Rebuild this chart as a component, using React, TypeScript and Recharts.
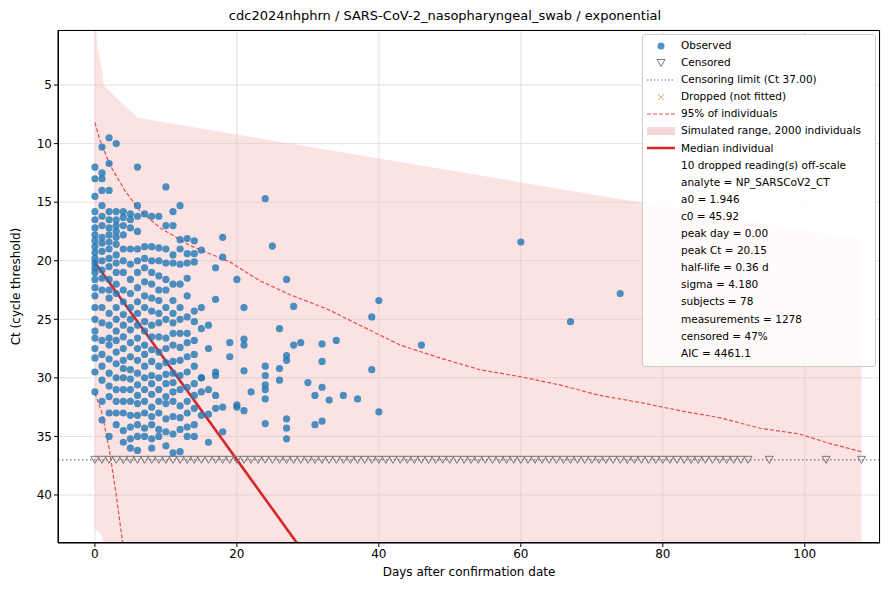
import {
  ComposedChart,
  Scatter,
  Line,
  Area,
  XAxis,
  YAxis,
  CartesianGrid,
  ReferenceLine,
} from "recharts";

// observed Ct values, dense part listed per day
const DAY_CT: number[][] = [
  [12, 13, 14.5, 15.8, 16.5, 17.2, 17.8, 18.3, 18.8, 19.3, 19.8, 20.2, 20.6, 21, 21.6, 22.3, 23, 24, 25, 26, 26.6, 27.5, 28.3, 29.5, 31.2],
  [10.3, 12.5, 13, 14, 15.3, 16.2, 17, 18, 18.5, 19.2, 20, 20.8, 21.5, 22.5, 24, 25.3, 26.8, 28, 29, 30.2, 32, 33.6],
  [9.5, 11.7, 14, 15.8, 16.5, 17.2, 17.8, 18.4, 19, 19.8, 20.5, 21.6, 22.5, 23.2, 24.5, 25.5, 26.6, 27.2, 28.4, 29.6, 30.7, 31.6, 33, 35],
  [10, 15.8, 16.5, 17, 17.5, 18, 18.6, 19.5, 20.2, 21, 22, 22.8, 24, 25, 26, 26.8, 27.8, 28.8, 30, 31, 32, 33, 34],
  [15.8, 16.3, 17, 17.8, 19, 20, 21, 22.5, 23.5, 24.6, 25.5, 26.5, 27.5, 28.5, 29.2, 30, 31, 32, 33, 34.5, 35.5],
  [16, 16.5, 17.2, 19, 20.3, 21.6, 22.8, 24, 25, 25.9, 27, 28.2, 29.3, 30.1, 31, 32, 33.2, 34.2, 35.2, 36],
  [12, 15.3, 16.2, 17.5, 19, 20, 21, 22.3, 23.5, 24.5, 25.5, 26.6, 27.5, 28.5, 29.6, 30.6, 31.5, 32.2, 33.2, 34, 35, 36.2],
  [16, 18.8, 19.8, 20.6, 21.8, 23, 24, 25.2, 26, 27.2, 28, 29, 30, 31, 32, 33, 34.3, 35],
  [16.2, 18.8, 20, 21, 22, 23.2, 24.3, 25.5, 26.5, 27.6, 28.6, 29.8, 30.5, 31.4, 32.5, 33.3, 34, 35.2, 36],
  [16.2, 18.9, 20, 21.3, 22.5, 23.4, 24.5, 25.3, 26.5, 27.8, 29, 30, 31, 32, 33, 34.4, 35],
  [13.7, 17, 19, 20.2, 21.6, 22.5, 24, 25, 26.6, 27.5, 28.7, 29.7, 30.5, 31.6, 32.2, 33.5, 34.6, 35.8],
  [15.8, 17, 19.5, 20.2, 22, 23.4, 24.5, 25.3, 26.2, 27.2, 28.6, 29.6, 30.4, 31.2, 32, 33.3, 34.8, 36.4],
  [15.3, 18.2, 19, 20.3, 22, 24, 25, 26.2, 27.4, 28.5, 29.8, 31, 32.4, 33.4, 34.4, 36.3],
  [18.1, 19.4, 20.2, 21.5, 23, 24.8, 26.2, 27, 28.2, 29.5, 30.8, 32, 33, 34.2, 35],
  [18.3, 19.4, 20.1, 24.3, 25.2, 26.8, 28, 29, 30.5, 31.5, 32.6, 34, 35],
  [19.1, 24, 25.8, 30, 31.2, 33.2],
];

// sparse observed points [day, Ct]
const SPARSE: [number, number][] = [
  [24, 14.7], [18, 18], [18, 19.7], [17, 20.6], [25, 18.75], [20, 21.6], [27, 21.6],
  [21, 24], [28, 23.9], [40, 23.4], [39, 24.8], [26, 25.8], [19, 27], [21, 26.7],
  [21, 27.2], [19, 28.2], [28, 27.2], [29, 27], [32, 27.1], [32, 28.6], [34, 26.8],
  [46, 27.2], [27, 28.1], [27, 28.5], [24, 29], [24, 29.8], [26, 29.2], [26, 30.2],
  [21, 29.4], [17, 29.5], [17, 29.8], [15, 30], [24, 30.6], [24, 31], [30, 30.4],
  [32, 30.8], [39, 29.3], [16, 31], [17, 31.5], [22, 31.2], [31, 31.5], [35, 31.5],
  [33, 31.9], [37, 31.8], [24, 31.8], [20, 32.3], [20, 32.5], [21, 32.8], [18, 32.5],
  [17, 32.6], [16, 33.1], [40, 32.9], [24, 33.9], [27, 33.5], [27, 34.3], [27, 35.2],
  [31, 34], [32, 33.7], [18, 34.6], [16, 35.5], [60, 18.4], [67, 25.2], [74, 22.8],
  [16, 25.5], [16, 27.5], [17, 23.3],
];

const CENSORED_DAYS: number[] = [
  ...Array.from({ length: 93 }, (_, i) => i),
  95, 103, 108,
];
const LIMIT = 37;

const UPPER_95: [number, number][] = [
  [0, 8.2], [0.7, 9.7], [2.1, 11.8], [4.2, 14], [6.3, 15.7], [9.2, 17.2], [13.4, 18.7],
  [19, 20.1], [23.2, 21.7], [27.5, 22.9], [33, 24.2], [37.3, 25.5], [43, 27.2],
  [48.6, 28.3], [54.2, 29.3], [59.9, 29.9], [65.5, 30.6], [71.1, 31.5], [76.8, 32.1],
  [82.4, 32.8], [88, 33.4], [93.7, 34.3], [99.3, 34.8], [103.5, 35.6], [108, 36.3],
];
const LOWER_95: [number, number][] = [[0, 31.3], [1, 33], [2, 36], [3, 40], [4, 44.5]];

const BAND: [number, number, number][] = [
  [0, -2, 43], [0.3, 1.6, 43], [1, 3.7, 43.5], [1.2, 5, 45], [6, 7.8, 45], [108, 18.2, 45],
];

const MEDIAN: [number, number][] = [[0, 20.15], [30, 45.4]];

const LEGEND_ROWS: { kind: string; text: string }[] = [
  { kind: "obs", text: "Observed" },
  { kind: "cens", text: "Censored" },
  { kind: "dot", text: "Censoring limit (Ct 37.00)" },
  { kind: "x", text: "Dropped (not fitted)" },
  { kind: "dash", text: "95% of individuals" },
  { kind: "band", text: "Simulated range, 2000 individuals" },
  { kind: "med", text: "Median individual" },
  { kind: "", text: "10 dropped reading(s) off-scale" },
  { kind: "", text: "analyte = NP_SARSCoV2_CT" },
  { kind: "", text: "a0 = 1.946" },
  { kind: "", text: "c0 = 45.92" },
  { kind: "", text: "peak day = 0.00" },
  { kind: "", text: "peak Ct = 20.15" },
  { kind: "", text: "half-life = 0.36 d" },
  { kind: "", text: "sigma = 4.180" },
  { kind: "", text: "subjects = 78" },
  { kind: "", text: "measurements = 1278" },
  { kind: "", text: "censored = 47%" },
  { kind: "", text: "AIC = 4461.1" },
];

const FONT = "'DejaVu Sans', sans-serif";
const BLUE = "#1f77b4";
const RED = "#d62728";

const observed = [
  ...DAY_CT.flatMap((vals, d) => vals.map((v) => ({ x: d, y: v }))),
  ...SPARSE.map(([x, y]) => ({ x, y })),
];
const censored = CENSORED_DAYS.map((x) => ({ x, y: LIMIT }));
const toXY = (arr: [number, number][]) => arr.map(([x, y]) => ({ x, y }));
const band = BAND.map(([x, hi, lo]) => ({ x, r: [hi, lo] }));

const Tri = (p: any) => (
  <path
    d={`M${p.cx - 4},${p.cy - 3.5} L${p.cx + 4},${p.cy - 3.5} L${p.cx},${p.cy + 3.5} Z`}
    fill="none"
    stroke="#777"
    strokeWidth={1}
  />
);
const Dot = (p: any) => <circle cx={p.cx} cy={p.cy} r={3.6} fill={BLUE} fillOpacity={0.8} />;

function LegendIcon({ kind }: { kind: string }) {
  return (
    <svg width={28} height={10} style={{ marginRight: 6, flexShrink: 0 }}>
      {kind === "obs" && <circle cx={14} cy={5} r={3.5} fill={BLUE} fillOpacity={0.8} />}
      {kind === "cens" && <path d="M10,1.5 L18,1.5 L14,8.5 Z" fill="none" stroke="#777" />}
      {kind === "dot" && <line x1={0} y1={5} x2={28} y2={5} stroke="#777" strokeDasharray="1.5 2" />}
      {kind === "x" && (
        <g stroke="#f5a860" strokeWidth={1}>
          <line x1={11} y1={2} x2={17} y2={8} />
          <line x1={17} y1={2} x2={11} y2={8} />
        </g>
      )}
      {kind === "dash" && <line x1={0} y1={5} x2={28} y2={5} stroke="#e35050" strokeDasharray="4 2" />}
      {kind === "band" && <rect x={0} y={1} width={28} height={8} fill="#f8d7d7" />}
      {kind === "med" && <line x1={0} y1={5} x2={28} y2={5} stroke={RED} strokeWidth={2.5} />}
    </svg>
  );
}

export default function App() {
  return (
    <div style={{ position: "absolute", left: 0, top: 0, width: 890, height: 590, background: "#fff", fontFamily: FONT }}>
      <div style={{ position: "absolute", top: 8, width: 890, textAlign: "center", fontSize: 13 }}>
        cdc2024nhphrn / SARS-CoV-2_nasopharyngeal_swab / exponential
      </div>
      <ComposedChart width={890} height={590} margin={{ top: 30, right: 10, bottom: 0, left: 0 }}>
        <CartesianGrid stroke="#e0e0e0" />
        <XAxis
          type="number"
          dataKey="x"
          domain={[-5.2, 110.6]}
          ticks={[0, 20, 40, 60, 80, 100]}
          allowDataOverflow
          height={47}
          tick={{ fill: "#000", fontSize: 12, fontFamily: FONT }}
          tickSize={4}
          stroke="#000"
          label={{ value: "Days after confirmation date", position: "insideBottom", offset: 14, fill: "#000", fontSize: 12, fontFamily: FONT }}
        />
        <YAxis
          type="number"
          dataKey="y"
          reversed
          domain={[0.3, 44.1]}
          ticks={[5, 10, 15, 20, 25, 30, 35, 40]}
          allowDataOverflow
          width={58}
          tick={{ fill: "#000", fontSize: 12, fontFamily: FONT }}
          tickSize={4}
          stroke="#000"
          label={{ value: "Ct (cycle threshold)", angle: -90, position: "insideLeft", offset: 16, fill: "#000", fontSize: 12, fontFamily: FONT, style: { textAnchor: "middle" } }}
        />
        <Area data={band} dataKey="r" type="linear" stroke="none" fill="#f4b8b8" fillOpacity={0.4} isAnimationActive={false} />
        <ReferenceLine y={LIMIT} stroke="#777" strokeDasharray="1.5 2.5" strokeWidth={1.2} />
        <Line data={toXY(UPPER_95)} dataKey="y" type="linear" stroke="#e35050" strokeDasharray="4 2" strokeWidth={1.2} dot={false} isAnimationActive={false} />
        <Line data={toXY(LOWER_95)} dataKey="y" type="linear" stroke="#e35050" strokeDasharray="4 2" strokeWidth={1.2} dot={false} isAnimationActive={false} />
        <Scatter data={censored} shape={Tri} isAnimationActive={false} />
        <Scatter data={observed} shape={Dot} isAnimationActive={false} />
        <Line data={toXY(MEDIAN)} dataKey="y" type="linear" stroke={RED} strokeWidth={2.6} dot={false} isAnimationActive={false} />
      </ComposedChart>
      <div style={{ position: "absolute", left: 58, top: 30, width: 822, height: 513, border: "1px solid #000", boxSizing: "border-box", pointerEvents: "none" }} />
      <div
        style={{
          position: "absolute", left: 642, top: 34, width: 234, padding: "2px 0 4px 4px",
          background: "rgba(255,255,255,0.85)", border: "1px solid #ccc", borderRadius: 3,
          fontSize: 10.5, lineHeight: "17.1px", boxSizing: "border-box",
        }}
      >
        {LEGEND_ROWS.map((r) => (
          <div key={r.text} style={{ display: "flex", alignItems: "center", whiteSpace: "nowrap" }}>
            <LegendIcon kind={r.kind} />
            <span>{r.text}</span>
          </div>
        ))}
      </div>
    </div>
  );
}
